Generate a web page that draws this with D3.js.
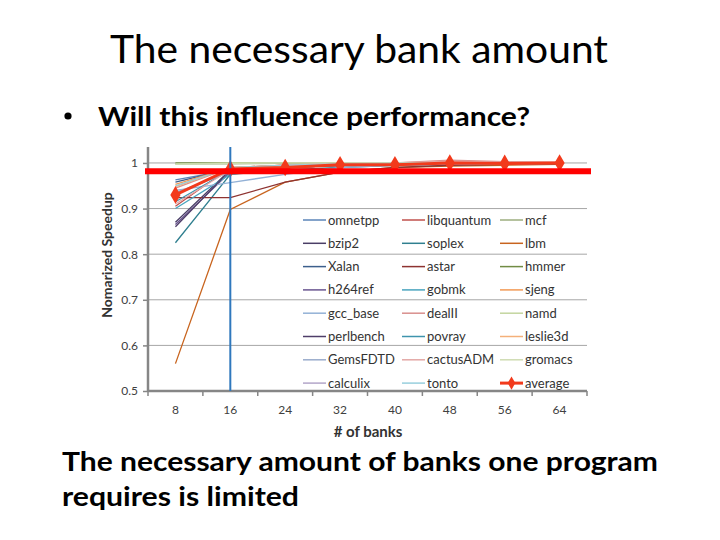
<!DOCTYPE html>
<html>
<head>
<meta charset="utf-8">
<script src="https://cdn.jsdelivr.net/npm/d3@7"></script>
<style>
  html, body { margin: 0; padding: 0; background: #fff; }
  svg { display: block; }
  .slide { font-family: Lato, "Open Sans", sans-serif; fill: #000; }
  .chart-text { font-family: Lato, "Liberation Sans", sans-serif; }
</style>
</head>
<body>
<svg id="slide" width="720" height="540"></svg>
<script>
/* slide with a multi-series line chart of speedup vs. bank count */

// ── Data ──
const banks = ["8", "16", "24", "32", "40", "48", "56", "64"];

const seriesNames = [
  "omnetpp", "libquantum", "mcf",
  "bzip2", "soplex", "lbm",
  "Xalan", "astar", "hmmer",
  "h264ref", "gobmk", "sjeng",
  "gcc_base", "dealII", "namd",
  "perlbench", "povray", "leslie3d",
  "GemsFDTD", "cactusADM", "gromacs",
  "calculix", "tonto"
];

const seriesValues = [
  [0.963, 0.985, 0.990, 0.995, 0.997, 0.998, 0.998, 1.000], // omnetpp
  [0.905, 0.990, 0.995, 0.998, 0.998, 1.003, 1.000, 1.000], // libquantum
  [0.998, 0.998, 0.999, 1.000, 1.000, 1.000, 1.000, 1.000], // mcf
  [0.870, 0.985, 0.990, 0.995, 0.997, 0.998, 0.998, 0.999], // bzip2
  [0.825, 0.975, 0.985, 0.990, 0.995, 0.997, 0.998, 0.999], // soplex
  [0.560, 0.898, 0.958, 0.980, 0.990, 0.993, 0.995, 0.997], // lbm
  [0.958, 0.987, 0.990, 0.995, 0.997, 0.998, 0.999, 1.000], // Xalan
  [0.924, 0.924, 0.958, 0.980, 0.990, 0.995, 0.997, 0.998], // astar
  [1.000, 1.000, 1.000, 1.000, 1.000, 1.000, 1.000, 1.000], // hmmer
  [0.865, 0.980, 0.990, 0.995, 0.997, 0.998, 0.999, 1.000], // h264ref
  [0.900, 0.975, 0.990, 0.995, 0.996, 0.998, 0.999, 1.000], // gobmk
  [0.953, 0.990, 0.995, 0.998, 0.999, 1.000, 1.000, 1.000], // sjeng
  [0.940, 0.957, 0.975, 0.990, 0.995, 0.998, 0.998, 0.999], // gcc_base
  [0.945, 0.990, 0.995, 1.000, 1.000, 1.006, 1.003, 1.002], // dealII
  [0.998, 1.000, 1.000, 1.000, 1.000, 1.000, 1.000, 1.000], // namd
  [0.860, 0.985, 0.990, 0.995, 0.997, 0.999, 0.999, 1.000], // perlbench
  [0.915, 0.985, 0.990, 0.996, 0.998, 0.999, 1.000, 1.000], // povray
  [0.948, 0.990, 0.995, 0.998, 0.999, 1.000, 1.000, 1.000], // leslie3d
  [0.935, 0.980, 0.990, 0.995, 0.997, 0.998, 0.998, 0.999], // GemsFDTD
  [0.910, 0.985, 0.995, 0.999, 1.000, 1.004, 1.002, 1.001], // cactusADM
  [0.997, 0.999, 1.000, 1.000, 1.000, 1.000, 1.000, 1.000], // gromacs
  [0.930, 0.985, 0.990, 0.996, 0.998, 0.999, 1.000, 1.000], // calculix
  [0.950, 0.990, 0.995, 0.998, 0.999, 1.000, 1.000, 1.000]  // tonto
];

const averageValues = [0.930, 0.987, 0.990, 0.996, 0.996, 1.000, 0.999, 1.000];

const yTicks = [0.5, 0.6, 0.7, 0.8, 0.9, 1];

// annotation drawn over the chart on the slide
const markLevel = 0.982;   // red horizontal bar
const markBank  = "16";    // blue vertical line

// ── Styling ──
const seriesColors = [
  "#5b84b8", "#c0504d", "#9cae7f",
  "#4a3e66", "#2f7f8f", "#c8641e",
  "#3c5f8c", "#8e3331", "#718c44",
  "#6a5590", "#4aa5bf", "#f29a55",
  "#93b1d6", "#d98f8d", "#c3d59f",
  "#4f3e69", "#3f94ad", "#f4b07a",
  "#9aaccc", "#e3a8a6", "#cfdcb3",
  "#b3a6c9", "#98cfdd"
];
const avgColor = "#f23a1c";

const LEFT = 148, RIGHT = 587, TOP = 147, BOTTOM = 391;

const svg = d3.select("#slide");

// ── Slide text ──
svg.append("text")
  .attr("class", "slide")
  .attr("x", 359).attr("y", 63)
  .attr("text-anchor", "middle")
  .attr("font-size", 38)
  .attr("font-weight", 400)
  .attr("textLength", 498).attr("lengthAdjust", "spacingAndGlyphs")
  .text("The necessary bank amount");

svg.append("circle")
  .attr("cx", 68).attr("cy", 116).attr("r", 3.6)
  .attr("fill", "#000");

svg.append("text")
  .attr("class", "slide")
  .attr("x", 98).attr("y", 126)
  .attr("font-size", 27).attr("font-weight", 700)
  .attr("textLength", 432).attr("lengthAdjust", "spacingAndGlyphs")
  .text("Will this influence performance?");

svg.append("text")
  .attr("class", "slide")
  .attr("x", 62).attr("y", 471)
  .attr("font-size", 27).attr("font-weight", 700)
  .attr("textLength", 596).attr("lengthAdjust", "spacingAndGlyphs")
  .text("The necessary amount of banks one program");

svg.append("text")
  .attr("class", "slide")
  .attr("x", 62).attr("y", 506)
  .attr("font-size", 27).attr("font-weight", 700)
  .attr("textLength", 237).attr("lengthAdjust", "spacingAndGlyphs")
  .text("requires is limited");

// ── Scales ──
const x = d3.scaleBand().domain(banks).range([LEFT, RIGHT]).padding(0);
const cx = d => x(d) + x.bandwidth() / 2;
const y = d3.scaleLinear().domain([0.5, 1.035]).range([BOTTOM, TOP]);

const chart = svg.append("g").attr("class", "chart-text");

// ── Gridlines ──
chart.append("g")
  .selectAll("line")
  .data(yTicks.filter(t => t > 0.5))
  .join("line")
  .attr("x1", LEFT).attr("x2", RIGHT)
  .attr("y1", d => y(d)).attr("y2", d => y(d))
  .attr("stroke", "#a6a6a6").attr("stroke-width", 1);

// ── Series lines ──
const line = d3.line()
  .x((d, i) => cx(banks[i]))
  .y(d => y(d));

chart.append("g")
  .selectAll("path")
  .data(seriesValues)
  .join("path")
  .attr("d", line)
  .attr("fill", "none")
  .attr("stroke", (d, i) => seriesColors[i])
  .attr("stroke-width", 1.3);

// ── Average ──
chart.append("path")
  .datum(averageValues)
  .attr("d", line)
  .attr("fill", "none")
  .attr("stroke", avgColor)
  .attr("stroke-width", 3);

const diamond = d3.symbol().type(d3.symbolDiamond).size(90);
chart.append("g")
  .selectAll("path")
  .data(averageValues)
  .join("path")
  .attr("transform", (d, i) => `translate(${cx(banks[i])},${y(d)})`)
  .attr("d", diamond)
  .attr("fill", avgColor);

// ── Axes ──
const yAxis = chart.append("g")
  .attr("transform", `translate(${LEFT},0)`)
  .call(d3.axisLeft(y).tickValues(yTicks).tickSize(5).tickPadding(5)
    .tickFormat(d => d === 1 ? "1" : d3.format(".1f")(d)));
yAxis.select(".domain").remove();
yAxis.selectAll(".tick line").attr("stroke", "#868686").attr("stroke-width", 1.5);
yAxis.selectAll(".tick text")
  .attr("font-size", 12).attr("fill", "#404040")
  .attr("font-family", "Lato, sans-serif");
yAxis.append("line")
  .attr("x1", 0).attr("x2", 0).attr("y1", TOP).attr("y2", BOTTOM)
  .attr("stroke", "#868686").attr("stroke-width", 2.5);

const xAxis = chart.append("g")
  .attr("transform", `translate(0,${BOTTOM})`)
  .call(d3.axisBottom(x).tickSize(0).tickPadding(14));
xAxis.select(".domain").remove();
xAxis.selectAll(".tick text")
  .attr("font-size", 12).attr("fill", "#404040")
  .attr("font-family", "Lato, sans-serif");
xAxis.append("g")
  .selectAll("line")
  .data(banks.concat(["end"]))
  .join("line")
  .attr("x1", (d, i) => LEFT + i * x.bandwidth())
  .attr("x2", (d, i) => LEFT + i * x.bandwidth())
  .attr("y1", 0).attr("y2", 5)
  .attr("stroke", "#868686").attr("stroke-width", 1.5);
xAxis.append("line")
  .attr("x1", LEFT).attr("x2", RIGHT).attr("y1", 0).attr("y2", 0)
  .attr("stroke", "#868686").attr("stroke-width", 2.5);

// ── Axis titles ──
chart.append("text")
  .attr("transform", "translate(112,255) rotate(-90)")
  .attr("text-anchor", "middle")
  .attr("font-size", 14).attr("font-weight", 700).attr("fill", "#333")
  .text("Nomarized Speedup");

chart.append("text")
  .attr("x", 368).attr("y", 437)
  .attr("text-anchor", "middle")
  .attr("font-size", 15).attr("font-weight", 700).attr("fill", "#333")
  .text("# of banks");

// ── Legend (3 columns, row-major) ──
const legendItems = seriesNames.map((n, i) => ({ name: n, color: seriesColors[i], avg: false }))
  .concat([{ name: "average", color: avgColor, avg: true }]);
const COL_X = [303, 402, 500];
const ROW_Y0 = 220, ROW_H = 23.3;

const leg = chart.append("g")
  .selectAll("g")
  .data(legendItems)
  .join("g")
  .attr("transform", (d, i) => `translate(${COL_X[i % 3]},${ROW_Y0 + Math.floor(i / 3) * ROW_H})`);

leg.append("line")
  .attr("x1", 0).attr("x2", 23).attr("y1", 0).attr("y2", 0)
  .attr("stroke", d => d.color)
  .attr("stroke-width", d => d.avg ? 3 : 1.5);

leg.filter(d => d.avg).append("path")
  .attr("transform", "translate(11.5,0)")
  .attr("d", d3.symbol().type(d3.symbolDiamond).size(50))
  .attr("fill", avgColor);

leg.append("text")
  .attr("x", 25).attr("y", 0)
  .attr("dy", "0.35em")
  .attr("font-size", 13).attr("fill", "#333")
  .text(d => d.name);

// ── Slide annotations over the chart ──
chart.append("line")
  .attr("x1", cx(markBank)).attr("x2", cx(markBank))
  .attr("y1", TOP).attr("y2", BOTTOM)
  .attr("stroke", "#2f78bd").attr("stroke-width", 2);

chart.append("line")
  .attr("x1", 145).attr("x2", 591)
  .attr("y1", y(markLevel)).attr("y2", y(markLevel))
  .attr("stroke", "#ff0000").attr("stroke-width", 6);
</script>
</body>
</html>
